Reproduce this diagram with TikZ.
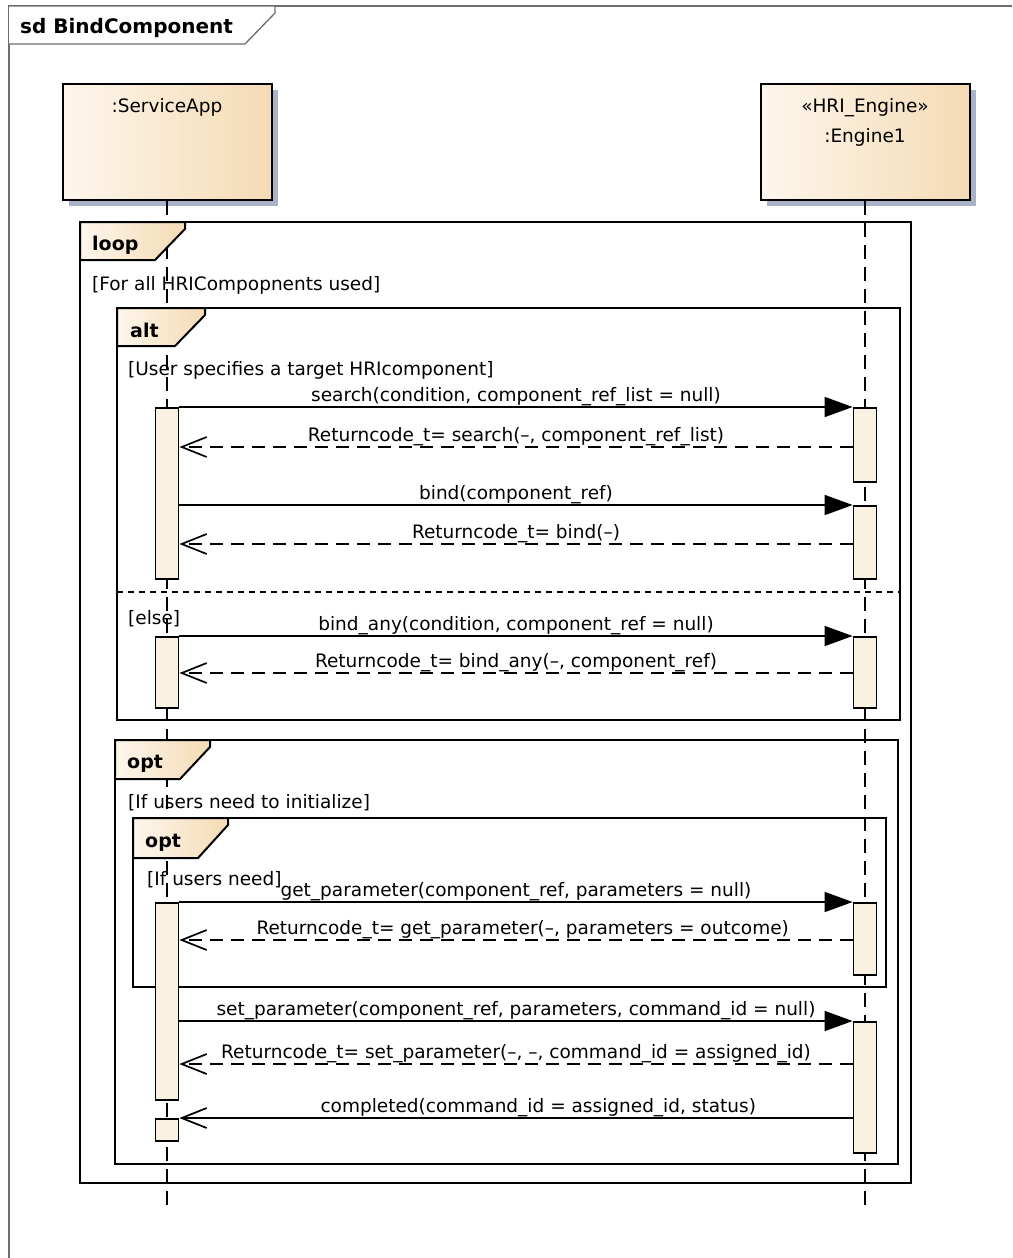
\documentclass[tikz,border=0pt]{standalone}
\usepackage{fontspec}
\setmainfont{DejaVu Sans}
\usetikzlibrary{arrows.meta,shadows,calc}
\definecolor{hl}{HTML}{FDF6EC}
\definecolor{hr}{HTML}{F5DBB5}
\definecolor{actc}{HTML}{FBF1E3}
\definecolor{shc}{HTML}{AAB2C8}
\definecolor{framegray}{HTML}{6E6E6E}
\tikzset{
 txt/.style={inner sep=0pt, font=\fontsize{18.5}{22}\selectfont},
 tabtxt/.style={inner sep=0pt, anchor=base west, font=\fontsize{19}{22}\selectfont\bfseries},
 guard/.style={txt, anchor=base west},
 headbox/.style={draw=black, line width=2pt, left color=hl, right color=hr, minimum width=209pt, minimum height=116pt, inner sep=0pt,
   general shadow={fill=shc, shadow xshift=6pt, shadow yshift=-6pt}},
 act/.style={draw=black, line width=1.8pt, fill=actc, minimum width=23pt, inner sep=0pt, anchor=north},
 lifeline/.style={line width=2pt, dash pattern=on 14pt off 8pt},
 frm/.style={draw=black, line width=2pt},
 tabshape/.style={draw=black, line width=2pt, left color=hl, right color=hr},
 sync/.style={line width=1.7pt, -{Triangle[length=28pt,width=20pt]}},
 ret/.style={line width=1.7pt, dash pattern=on 13pt off 8pt, -{Straight Barb[length=25pt,width=20pt,line width=1.7pt]}},
 async/.style={line width=1.7pt, -{Straight Barb[length=25pt,width=20pt,line width=1.7pt]}},
 msg/.style={txt, anchor=base, yshift=6pt},
}
\begin{document}
\begin{tikzpicture}[x=1pt,y=-1pt]
\useasboundingbox (0,0) rectangle (1012,1258);
\fill[white] (0,0) rectangle (1012,1258);

% outer sd frame
\draw[framegray, line width=1.3pt] (9,1258) -- (9,6) -- (1012,6);
\draw[framegray, line width=1.3pt, fill=white] (9,6) -- (275,6) -- (275,13) -- (245,44) -- (9,44);
\node[tabtxt, font=\fontsize{20}{22}\selectfont\bfseries] (sdlabel) at (20,33) {sd BindComponent};

% lifeline heads
\node[headbox] (sa) at (167,142) {};
\node[headbox] (en) at (865,142) {};
\node[txt, anchor=base] (saname) at (167,112) {:ServiceApp};
\node[txt, anchor=base] (enster) at (865,112) {«HRI\_Engine»};
\node[txt, anchor=base] (enname) at (865,142) {:Engine1};

% lifelines
\coordinate (saend) at (167,1205);
\coordinate (enend) at (865,1205);
\draw[lifeline] (sa.south) -- (saend);
\draw[lifeline] (en.south) -- (enend);

% loop frame
\draw[frm] (80,222) rectangle (911,1183);
\draw[tabshape] (80,222) -- (185,222) -- (185,229) -- (155,260) -- (80,260) -- cycle;
\node[tabtxt] (looplbl) at (92,250) {loop};
\node[guard] (loopguard) at (92,290) {[For all HRICompopnents used]};

% alt frame
\draw[frm] (117,308) rectangle (900,720);
\draw[tabshape] (117,308) -- (205,308) -- (205,315) -- (175,346) -- (117,346) -- cycle;
\node[tabtxt] (altlbl) at (130,337) {alt};
\node[guard] (altguard1) at (128,375) {[User specifies a target HRIcomponent]};
\draw[line width=1.6pt, dash pattern=on 6pt off 5pt] (117,592) -- (900,592);
\node[guard] (altguard2) at (128,624) {[else]};

% opt frame (outer)
\draw[frm] (115,740) rectangle (898,1164);
\draw[tabshape] (115,740) -- (210,740) -- (210,747) -- (180,779) -- (115,779) -- cycle;
\node[tabtxt] (optlbl1) at (127,768) {opt};
\node[guard] (optguard1) at (128,808) {[If users need to initialize]};

% opt frame (inner)
\draw[frm] (133,818) rectangle (886,987);
\draw[tabshape] (133,818) -- (228,818) -- (228,825) -- (198,858) -- (133,858) -- cycle;
\node[tabtxt] (optlbl2) at (145,847) {opt};
\node[guard] (optguard2) at (147,885) {[If users need]};

% activations
\node[act, minimum height=171pt] (a1) at (167,407) {};
\node[act, minimum height=71pt] (a2) at (167,636) {};
\node[act, minimum height=197pt] (a3) at (167,902) {};
\node[act, minimum height=22pt] (a4) at (167,1118) {};
\node[act, minimum height=74pt] (e1) at (865,407) {};
\node[act, minimum height=73pt] (e2) at (865,505) {};
\node[act, minimum height=71pt] (e3) at (865,636) {};
\node[act, minimum height=72pt] (e4) at (865,902) {};
\node[act, minimum height=131pt] (e5) at (865,1021) {};

% return levels
\coordinate (r1) at (0,447);
\coordinate (r2) at (0,544);
\coordinate (r3) at (0,673);
\coordinate (r4) at (0,940);
\coordinate (r5) at (0,1064);

% messages
\draw[sync] (a1.north east) -- (e1.north west)
  node[msg, midway] {search(condition, component\_ref\_list = null)};
\draw[ret] (e1.west |- r1) -- (a1.east |- r1)
  node[msg, midway] {Returncode\_t= search(–, component\_ref\_list)};
\draw[sync] (a1.east |- e2.north) -- (e2.north west)
  node[msg, midway] {bind(component\_ref)};
\draw[ret] (e2.west |- r2) -- (a1.east |- r2)
  node[msg, midway] {Returncode\_t= bind(–)};
\draw[sync] (a2.north east) -- (e3.north west)
  node[msg, midway] {bind\_any(condition, component\_ref = null)};
\draw[ret] (e3.west |- r3) -- (a2.east |- r3)
  node[msg, midway] {Returncode\_t= bind\_any(–, component\_ref)};
\draw[sync] (a3.north east) -- (e4.north west)
  node[msg, midway] {get\_parameter(component\_ref, parameters = null)};
\draw[ret] (e4.west |- r4) -- (a3.east |- r4)
  node[msg, pos=0.49] {Returncode\_t= get\_parameter(–, parameters = outcome)};
\draw[sync] (a3.east |- e5.north) -- (e5.north west)
  node[msg, midway] {set\_parameter(component\_ref, parameters, command\_id = null)};
\draw[ret] (e5.west |- r5) -- (a3.east |- r5)
  node[msg, midway] {Returncode\_t= set\_parameter(–, –, command\_id = assigned\_id)};
\draw[async] (e5.west |- a4.north) -- (a4.north east)
  node[msg, pos=0.467] {completed(command\_id = assigned\_id, status)};
\end{tikzpicture}
\end{document}
